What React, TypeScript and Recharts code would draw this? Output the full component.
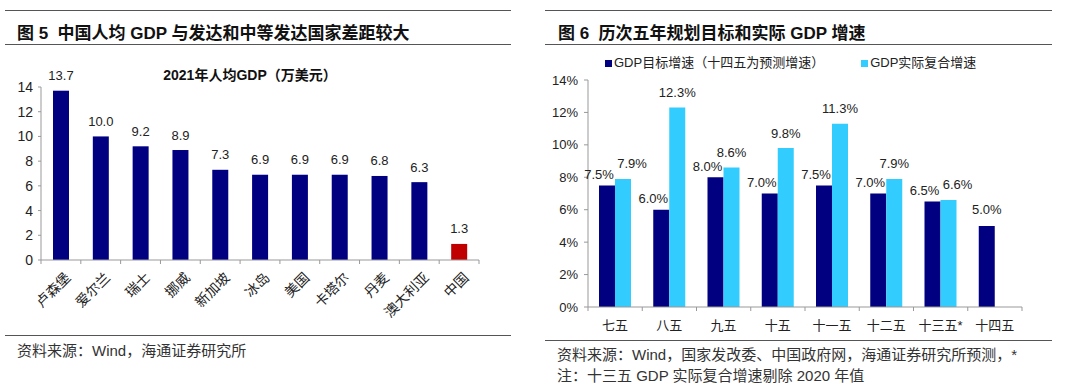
import React from 'react';
import { BarChart, Bar, XAxis, YAxis, LabelList } from 'recharts';

// ---------- Data: Figure 5 ----------
const countries = ['卢森堡', '爱尔兰', '瑞士', '挪威', '新加坡', '冰岛', '美国', '卡塔尔', '丹麦', '澳大利亚', '中国'];
const gdpPerCapita = [13.7, 10.0, 9.2, 8.9, 7.3, 6.9, 6.9, 6.9, 6.8, 6.3, 1.3];
const leftTicks = [0, 2, 4, 6, 8, 10, 12, 14];

// ---------- Data: Figure 6 ----------
const plans = ['七五', '八五', '九五', '十五', '十一五', '十二五', '十三五*', '十四五'];
const targetGrowth = [7.5, 6.0, 8.0, 7.0, 7.5, 7.0, 6.5, 5.0];
const actualGrowth: (number | null)[] = [7.9, 12.3, 8.6, 9.8, 11.3, 7.9, 6.6, null];
const rightTicks = [0, 2, 4, 6, 8, 10, 12, 14];
const seriesNames = ['GDP目标增速（十四五为预测增速）', 'GDP实际复合增速'];

const leftData = countries.map((c, i) => ({ name: c, value: gdpPerCapita[i] }));
const rightData = plans.map((p, i) => ({ name: p, target: targetGrowth[i], actual: actualGrowth[i] }));

const FONT = '"Liberation Sans", Arial, "Noto Sans CJK SC", sans-serif';
const NAVY = '#000080';
const RED = '#C00000';
const SKY = '#33CCFF';
const AXIS = '#999999';
const TEXT = '#222222';

// layout constants
const L_W = 540, L_H = 386;
const L_MARGIN = { top: 87, right: 61, left: 0, bottom: 66 };
const L_YW = 41;
const L_PLOT_W = L_W - L_MARGIN.right - L_YW;
const L_BAND = L_PLOT_W / countries.length;

const R_W = 540, R_H = 386;
const R_MARGIN = { top: 80, right: 58, left: 0, bottom: 49 };
const R_YW = 48;
const R_PLOT_W = R_W - R_MARGIN.right - R_YW;
const R_BAND = R_PLOT_W / plans.length;

const LeftXTick = (props: any) => {
  const { x, y, payload, index } = props;
  const isLast = index === countries.length - 1;
  return (
    <g>
      <line x1={x - L_BAND / 2} x2={x - L_BAND / 2} y1={y} y2={y + 4} stroke={AXIS} />
      {isLast && <line x1={x + L_BAND / 2} x2={x + L_BAND / 2} y1={y} y2={y + 4} stroke={AXIS} />}
      <text
        x={x + 7}
        y={y + 15}
        textAnchor="end"
        dominantBaseline="central"
        transform={`rotate(-45, ${x + 7}, ${y + 15})`}
        fontSize={14}
        fill={TEXT}
        fontFamily={FONT}
      >
        {payload.value}
      </text>
    </g>
  );
};

const RightXTick = (props: any) => {
  const { x, y, payload, index } = props;
  const isLast = index === plans.length - 1;
  return (
    <g>
      <line x1={x - R_BAND / 2} x2={x - R_BAND / 2} y1={y} y2={y + 4} stroke={AXIS} />
      {isLast && <line x1={x + R_BAND / 2} x2={x + R_BAND / 2} y1={y} y2={y + 4} stroke={AXIS} />}
      <text x={x} y={y + 18} textAnchor="middle" dominantBaseline="central" fontSize={13} fill={TEXT} fontFamily={FONT}>
        {payload.value}
      </text>
    </g>
  );
};

const TargetLabel = (props: any) => {
  const { x, y, width, value, index } = props;
  if (value == null) return null;
  const hasActual = actualGrowth[index] != null;
  const cx = x + width / 2 + (hasActual ? -8 : 0);
  const cy = y - (hasActual ? 11 : 16);
  return (
    <text x={cx} y={cy} textAnchor="middle" dominantBaseline="central" fontSize={13} fill={TEXT} fontFamily={FONT}>
      {Number(value).toFixed(1)}%
    </text>
  );
};

const ActualLabel = (props: any) => {
  const { x, y, width, value, index } = props;
  if (value == null) return null;
  const tgt = targetGrowth[index];
  const crowded = Math.abs(tgt - Number(value)) < 0.5;
  return (
    <text x={x + width / 2 + (crowded ? 9 : 0)} y={y - 15} textAnchor="middle" dominantBaseline="central" fontSize={13} fill={TEXT} fontFamily={FONT}>
      {Number(value).toFixed(1)}%
    </text>
  );
};

const LeftLabel = (props: any) => {
  const { x, y, width, value } = props;
  return (
    <text x={x + width / 2} y={y - 15} textAnchor="middle" dominantBaseline="central" fontSize={13} fill={TEXT} fontFamily={FONT}>
      {Number(value).toFixed(1)}
    </text>
  );
};

const hr = (left: number, top: number, width: number): React.CSSProperties => ({
  position: 'absolute', left, top, width, height: 0, borderTop: '1.5px solid #555',
});

export default function App() {
  return (
    <div style={{ position: 'absolute', left: 0, top: 0, width: 1080, height: 386, background: '#fff', fontFamily: FONT, overflow: 'hidden' }}>
      {/* Figure 5 header */}
      <div style={hr(5, 10, 506)} />
      <div style={{ position: 'absolute', left: 17, top: 19, fontSize: 17, fontWeight: 'bold', color: '#111', whiteSpace: 'nowrap' }}>
        图 5&nbsp; 中国人均 GDP 与发达和中等发达国家差距较大
      </div>
      <div style={hr(5, 44, 506)} />

      {/* Figure 6 header */}
      <div style={hr(545, 10, 507)} />
      <div style={{ position: 'absolute', left: 558, top: 19, fontSize: 17, fontWeight: 'bold', color: '#111', whiteSpace: 'nowrap' }}>
        图 6&nbsp; 历次五年规划目标和实际 GDP 增速
      </div>
      <div style={hr(545, 44, 507)} />

      {/* Figure 5 chart */}
      <div style={{ position: 'absolute', left: 0, top: 0 }}>
        <BarChart width={L_W} height={L_H} data={leftData} margin={L_MARGIN} barCategoryGap={0}>
          <XAxis
            dataKey="name"
            interval={0}
            height={60}
            tickLine={false}
            tickSize={0}
            tickMargin={0}
            tick={<LeftXTick />}
            stroke={AXIS}
          />
          <YAxis
            domain={[0, 14]}
            ticks={leftTicks}
            width={L_YW}
            tickSize={3}
            tickMargin={5}
            stroke={AXIS}
            tick={{ fontSize: 14, fill: TEXT, fontFamily: FONT }}
            allowDataOverflow
          />
          <Bar dataKey="value" barSize={16} isAnimationActive={false} fill={NAVY}
            shape={(p: any) => (
              <rect x={p.x} y={p.y} width={p.width} height={p.height} fill={p.index === countries.length - 1 ? RED : NAVY} />
            )}
          >
            <LabelList dataKey="value" content={<LeftLabel />} />
          </Bar>
        </BarChart>
      </div>
      <div style={{ position: 'absolute', left: 153, top: 64, width: 194, textAlign: 'center', fontSize: 14, fontWeight: 'bold', color: '#111', whiteSpace: 'nowrap' }}>
        2021年人均GDP（万美元）
      </div>

      {/* Figure 6 legend */}
      <div style={{ position: 'absolute', left: 605, top: 54, display: 'flex', fontSize: 13, color: TEXT, whiteSpace: 'nowrap', lineHeight: '18px' }}>
        <div style={{ display: 'flex', alignItems: 'center' }}>
          <span style={{ width: 7, height: 7, background: NAVY, display: 'inline-block', marginRight: 2 }} />
          <span>{seriesNames[0]}</span>
        </div>
        <div style={{ display: 'flex', alignItems: 'center', marginLeft: 37 }}>
          <span style={{ width: 7, height: 7, background: SKY, display: 'inline-block', marginRight: 2 }} />
          <span>{seriesNames[1]}</span>
        </div>
      </div>

      {/* Figure 6 chart */}
      <div style={{ position: 'absolute', left: 540, top: 0 }}>
        <BarChart width={R_W} height={R_H} data={rightData} margin={R_MARGIN} barGap={0} barSize={16}>
          <XAxis
            dataKey="name"
            interval={0}
            height={30}
            tickLine={false}
            tickSize={0}
            tickMargin={0}
            tick={<RightXTick />}
            stroke={AXIS}
          />
          <YAxis
            domain={[0, 14]}
            ticks={rightTicks}
            width={R_YW}
            tickSize={4}
            tickMargin={6}
            stroke={AXIS}
            tickFormatter={(v: number) => `${v}%`}
            tick={{ fontSize: 13, fill: TEXT, fontFamily: FONT }}
            allowDataOverflow
          />
          <Bar dataKey="target" name={seriesNames[0]} fill={NAVY} isAnimationActive={false}>
            <LabelList dataKey="target" content={<TargetLabel />} />
          </Bar>
          <Bar dataKey="actual" name={seriesNames[1]} fill={SKY} isAnimationActive={false}>
            <LabelList dataKey="actual" content={<ActualLabel />} />
          </Bar>
        </BarChart>
      </div>

      {/* Sources */}
      <div style={hr(5, 335, 506)} />
      <div style={{ position: 'absolute', left: 17, top: 339, fontSize: 15, color: '#333', whiteSpace: 'nowrap' }}>
        资料来源：Wind，海通证券研究所
      </div>
      <div style={hr(545, 340, 507)} />
      <div style={{ position: 'absolute', left: 557, top: 344, fontSize: 15, color: '#333', whiteSpace: 'nowrap', lineHeight: '21px' }}>
        资料来源：Wind，国家发改委、中国政府网，海通证券研究所预测，*<br />
        注：十三五 GDP 实际复合增速剔除 2020 年值
      </div>
    </div>
  );
}
